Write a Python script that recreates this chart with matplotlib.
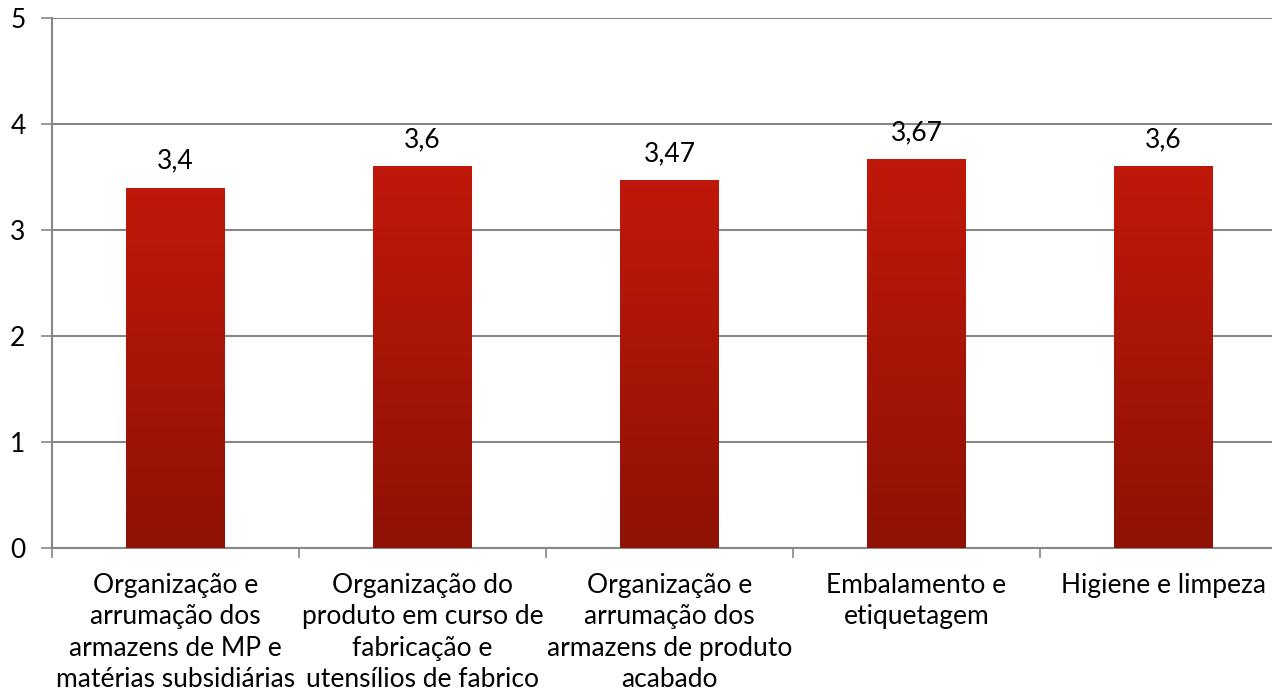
import matplotlib
matplotlib.use("Agg")
import matplotlib.pyplot as plt
import numpy as np
from matplotlib.colors import LinearSegmentedColormap

categories = [
    "Organização e\narrumação dos\narmazens de MP e\nmatérias subsidiárias",
    "Organização do\nproduto em curso de\nfabricação e\nutensílios de fabrico",
    "Organização e\narrumação dos\narmazens de produto\nacabado",
    "Embalamento e\netiquetagem",
    "Higiene e limpeza",
]
values = [3.4, 3.6, 3.47, 3.67, 3.6]
value_labels = ["3,4", "3,6", "3,47", "3,67", "3,6"]
yticks = [0, 1, 2, 3, 4, 5]

plt.rcParams['font.family'] = ['Lato', 'DejaVu Sans']
FS = 19

W, H = 1272, 700
fig = plt.figure(figsize=(W / 100, H / 100), dpi=100)
left, right, top, bottom = 52, 1287, 18, 548
ax = fig.add_axes([left / W, 1 - bottom / H, (right - left) / W, (bottom - top) / H])

grid_color = "#878787"
x = np.arange(len(categories))
bars = ax.bar(x, values, width=0.4, color="none", zorder=3)

cmap = LinearSegmentedColormap.from_list("bar", ["#8E1205", "#C0180A"])
grad = np.linspace(0, 1, 256).reshape(-1, 1)
for b in bars:
    x0, w, h = b.get_x(), b.get_width(), b.get_height()
    im = ax.imshow(grad, extent=[x0, x0 + w, 0, h], origin="lower", cmap=cmap,
                   aspect="auto", zorder=3)
    im.set_clip_path(b)

for xi, v, lab in zip(x, values, value_labels):
    ax.annotate(lab, (xi, v), xytext=(0, 10), textcoords="offset points",
                ha="center", va="bottom", fontsize=FS, color="black")

ax.set_xlim(-0.5, len(categories) - 0.5)
ax.set_ylim(0, 5)
ax.set_yticks(yticks)
ax.set_yticklabels([str(t) for t in yticks], fontsize=FS)
ax.yaxis.grid(True, color=grid_color, linewidth=1.5, zorder=0)
ax.set_axisbelow(True)

ax.set_xticks(np.arange(len(categories) + 1) - 0.5)
ax.set_xticklabels([])
ax.set_xticks(x, minor=True)
ax.set_xticklabels(categories, minor=True, fontsize=FS, linespacing=1.32)
ax.tick_params(axis="x", which="minor", length=0, pad=18)
ax.tick_params(axis="x", which="major", length=7, color=grid_color, width=1.2)
ax.tick_params(axis="y", length=8, color=grid_color, width=1.2, pad=11)

for s in ["top", "right"]:
    ax.spines[s].set_visible(False)
ax.spines["left"].set_color(grid_color)
ax.spines["bottom"].set_color(grid_color)
ax.spines["left"].set_linewidth(1.5)
ax.spines["bottom"].set_linewidth(1.5)

fig.savefig("out.png", dpi=100)
